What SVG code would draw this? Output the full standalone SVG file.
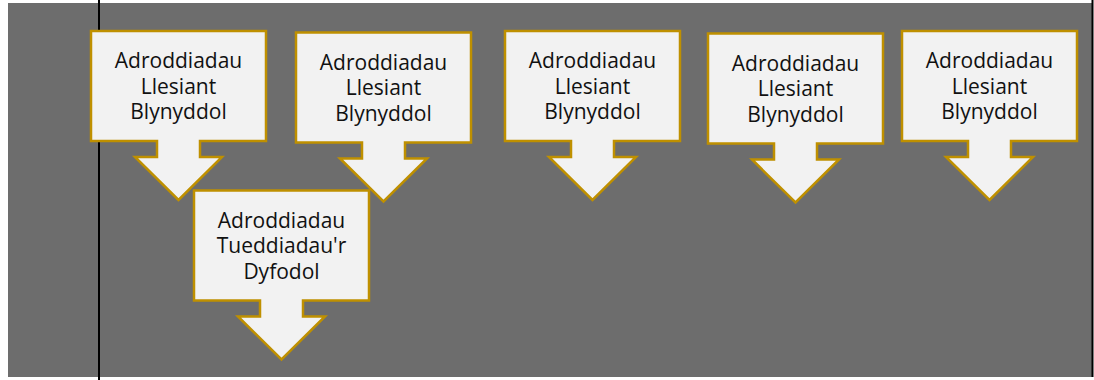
<svg xmlns="http://www.w3.org/2000/svg" width="1094" height="380" viewBox="0 0 1094 380">
  <defs>
    <style>
      .panel { fill: #6d6d6d; }
      .rule { stroke: #000; stroke-width: 2; }
      .callout { fill: #f2f2f2; stroke: #bf9000; stroke-width: 2.5; stroke-linejoin: miter; }
      .label { font-family: "Open Sans", "Liberation Sans", sans-serif; font-size: 21px; fill: #111; text-anchor: middle; }
    </style>
    <!-- callout box with downward arrow, drawn relative to its top-left corner -->
    <path id="callout-shape" d="M0,0 H175 V110 H109 V126 H131 L87.5,169 L44,126 H66 V110 H0 Z"/>
  </defs>

  <rect class="panel" x="8" y="3" width="1084" height="374"/>
  <line class="rule" x1="99" y1="0" x2="99" y2="380"/>
  <line class="rule" x1="1092.5" y1="0" x2="1092.5" y2="377" stroke-width="1.5"/>

  <g id="connectors"></g>

  <g id="node-lles-1" transform="translate(91,31)">
    <use href="#callout-shape" class="callout"/>
    <text class="label" x="87.5" y="37">Adroddiadau</text>
    <text class="label" x="87.5" y="62.5">Llesiant</text>
    <text class="label" x="87.5" y="88">Blynyddol</text>
  </g>

  <g id="node-lles-2" transform="translate(296,32.5)">
    <use href="#callout-shape" class="callout"/>
    <text class="label" x="87.5" y="37">Adroddiadau</text>
    <text class="label" x="87.5" y="62.5">Llesiant</text>
    <text class="label" x="87.5" y="88">Blynyddol</text>
  </g>

  <g id="node-lles-3" transform="translate(505,31)">
    <use href="#callout-shape" class="callout"/>
    <text class="label" x="87.5" y="37">Adroddiadau</text>
    <text class="label" x="87.5" y="62.5">Llesiant</text>
    <text class="label" x="87.5" y="88">Blynyddol</text>
  </g>

  <g id="node-lles-4" transform="translate(708,33.5)">
    <use href="#callout-shape" class="callout"/>
    <text class="label" x="87.5" y="37">Adroddiadau</text>
    <text class="label" x="87.5" y="62.5">Llesiant</text>
    <text class="label" x="87.5" y="88">Blynyddol</text>
  </g>

  <g id="node-lles-5" transform="translate(902,31)">
    <use href="#callout-shape" class="callout"/>
    <text class="label" x="87.5" y="37">Adroddiadau</text>
    <text class="label" x="87.5" y="62.5">Llesiant</text>
    <text class="label" x="87.5" y="88">Blynyddol</text>
  </g>

  <g id="node-tueddiadau" transform="translate(194,190.5)">
    <use href="#callout-shape" class="callout"/>
    <text class="label" x="87.5" y="37">Adroddiadau</text>
    <text class="label" x="87.5" y="62.5">Tueddiadau'r</text>
    <text class="label" x="87.5" y="88">Dyfodol</text>
  </g>
</svg>
